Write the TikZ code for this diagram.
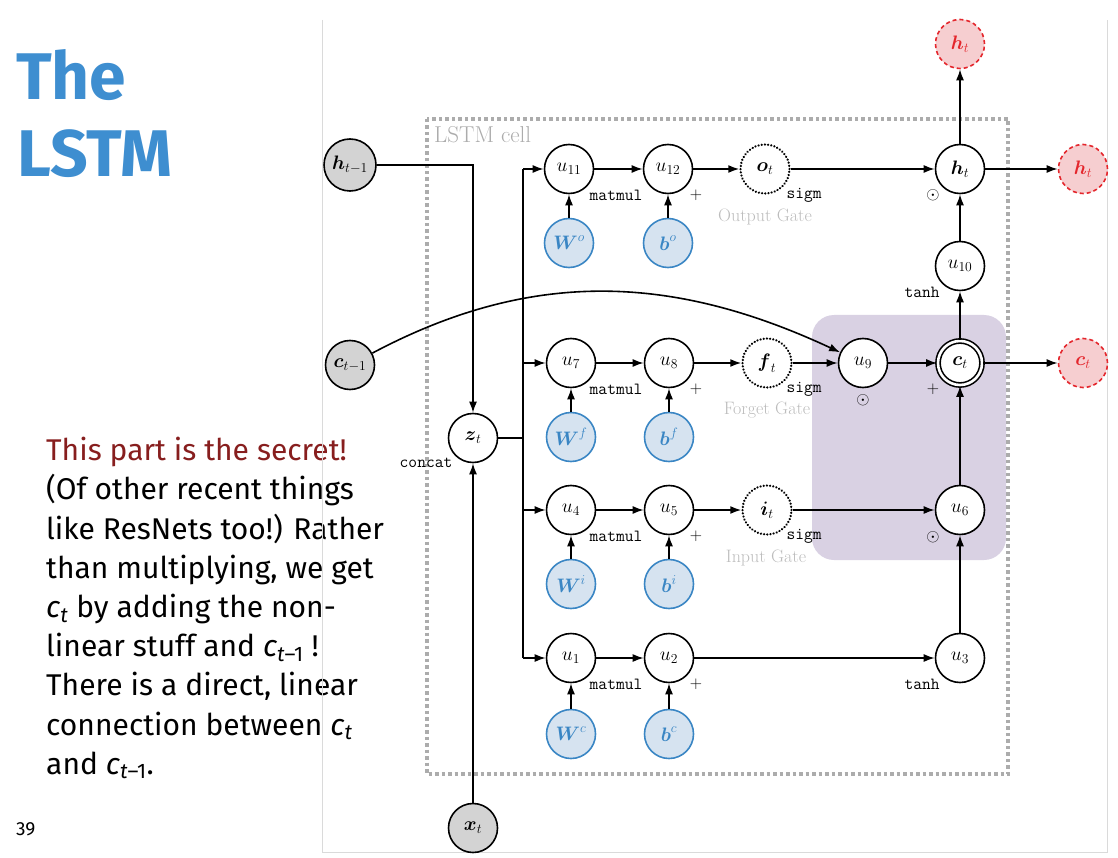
\RequirePackage{fix-cm}
\documentclass[tikz,border=0pt]{standalone}
\usepackage{amssymb}
\usepackage{amsmath}
\usepackage{fontspec}
\usepackage{tikz}
\usetikzlibrary{arrows.meta}

\newfontfamily\slidefont{Fira Sans}
\newcommand{\cvar}[1]{\textit{c}\textsubscript{#1}}

\definecolor{titleblue}{RGB}{62,142,208}
\definecolor{secretred}{RGB}{135,30,30}
\definecolor{parblue}{RGB}{58,134,196}
\definecolor{parfill}{RGB}{214,227,240}
\definecolor{outred}{RGB}{228,38,44}
\definecolor{outfill}{RGB}{246,206,208}
\definecolor{infill}{RGB}{211,211,211}
\definecolor{lightlbl}{RGB}{188,188,188}
\definecolor{cellgray}{RGB}{172,172,172}
\definecolor{keepbg}{RGB}{217,209,227}
\definecolor{framegray}{RGB}{218,218,218}

\tikzset{
  op/.style={circle, draw, line width=1.6pt, minimum size=49pt, inner sep=0pt, fill=white,
    font=\fontsize{19.5}{23}\selectfont},
  inp/.style={op, fill=infill},
  gate/.style={op, line cap=round, dash pattern=on 0.01pt off 3.2pt, line width=2.5pt},
  param/.style={op, draw=parblue, fill=parfill, text=parblue},
  outp/.style={op, draw=outred, fill=outfill, text=outred, dash pattern=on 4pt off 3pt},
  wire/.style={line width=1.6pt},
  arr/.style={wire, -{Latex[length=11pt,width=8pt]}},
  oplbl/.style={inner sep=0pt, font=\ttfamily\fontsize{17}{20}\selectfont},
  gatelbl/.style={inner sep=0pt, text=lightlbl, font=\rmfamily\fontsize{18}{21}\selectfont},
  slide/.style={inner sep=0pt, anchor=base west, font=\slidefont\fontsize{30}{36}\selectfont}
}

\begin{document}
\begin{tikzpicture}[x=1pt, y=1pt, font=\fontsize{17}{20}\selectfont]
\useasboundingbox (0,0) rectangle (1118,-858);

% slide text
\node[slide, text=titleblue, font=\slidefont\bfseries\fontsize{66}{70}\selectfont] (title1) at (16,-100) {The};
\node[slide, text=titleblue, font=\slidefont\bfseries\fontsize{66}{70}\selectfont] (title2) at (17,-177) {LSTM};
\node[slide, text=secretred] (line0) at (46,-460.7) {This part is the secret!};
\foreach \txt [count=\i] in {{(Of other recent things}, {like ResNets too!) Rather},
    {than multiplying, we get}, {\cvar{\textit{t}} by adding the non-}, {linear stuff and \cvar{\textit{t}–1} !},
    {There is a direct, linear}, {connection between \cvar{\textit{t}}}, {and \cvar{\textit{t}–1}.}}
  \node[slide] (line\i) at (46,{-460.7-39.2*\i}) {\txt};
\node[slide, font=\slidefont\fontsize{19}{22}\selectfont] (pageno) at (16,-835) {39};

% picture frame
\draw[framegray, line width=1pt] (322,-20) -- (322,-852) -- (1107,-852) -- (1107,-20);

% cell
\fill[keepbg, rounded corners=22pt] (812,-315) rectangle (1006,-560);
\draw[cellgray, line width=3.5pt, dash pattern=on 3.5pt off 3pt] (427,-119) rectangle (1008,-774);
\node[gatelbl, text=cellgray, font=\rmfamily\fontsize{23}{26}\selectfont, anchor=base west] (celltitle) at (434,-143) {LSTM cell};

% inputs
\node[inp, minimum size=52pt] (hprev) at (350,-165) {$\boldsymbol{h}_{t-1}$};
\node[inp] (cprev) at (350,-365) {$\boldsymbol{c}_{t-1}$};
\node[inp] (xt) at (473,-828) {$\boldsymbol{x}_t$};
\node[op] (zt) at (473,-438) {$\boldsymbol{z}_t$};
\node[oplbl] (concat) at (426,-463) {concat};

% output gate row
\node[op] (u11) at (569,-169) {$u_{11}$};
\node[op] (u12) at (668,-169) {$u_{12}$};
\node[gate] (ot) at (765,-169) {$\boldsymbol{o}_t$};
\node[op] (ht) at (960,-169) {$\boldsymbol{h}_t$};
\node[outp] (htop) at (960,-44) {$\boldsymbol{h}_t$};
\node[outp] (hout) at (1083,-169) {$\boldsymbol{h}_t$};
\node[op] (u10) at (960,-266) {$u_{10}$};
\node[param] (Wo) at (569,-243) {$\boldsymbol{W}^o$};
\node[param] (bo) at (668,-243) {$\boldsymbol{b}^o$};

% forget gate row
\node[op] (u7) at (571,-363) {$u_7$};
\node[op] (u8) at (669,-363) {$u_8$};
\node[gate] (ft) at (767,-363) {$\boldsymbol{f}_t$};
\node[op] (u9) at (863,-363) {$u_9$};
\node[op, minimum size=44pt, double=white, double distance=2.6pt] (ct) at (960,-363) {$\boldsymbol{c}_t$};
\node[outp] (cout) at (1083,-363) {$\boldsymbol{c}_t$};
\node[param] (Wf) at (571,-437) {$\boldsymbol{W}^f$};
\node[param] (bf) at (669,-437) {$\boldsymbol{b}^f$};

% input gate row
\node[op] (u4) at (571,-510) {$u_4$};
\node[op] (u5) at (669,-510) {$u_5$};
\node[gate] (it) at (767,-510) {$\boldsymbol{i}_t$};
\node[op] (u6) at (960,-510) {$u_6$};
\node[param] (Wi) at (571,-584) {$\boldsymbol{W}^i$};
\node[param] (bi) at (669,-584) {$\boldsymbol{b}^i$};

% candidate row
\node[op] (u1) at (571,-658) {$u_1$};
\node[op] (u2) at (669,-658) {$u_2$};
\node[op] (u3) at (960,-658) {$u_3$};
\node[param] (Wc) at (571,-734) {$\boldsymbol{W}^c$};
\node[param] (bc) at (669,-734) {$\boldsymbol{b}^c$};

% op labels
\foreach \r in {169,363,510,658} {
  \node[oplbl] (mm\r) at (616,-\r-26) {matmul};
  \node[inner sep=0pt] (add\r) at (696,-\r-26) {$+$};
}
\foreach \r in {169,363,510}
  \node[oplbl] (sig\r) at (804,-\r-26) {sigm};
\node[gatelbl] (oname) at (765,-217) {Output Gate};
\node[gatelbl] (fname) at (767,-410) {Forget Gate};
\node[gatelbl] (iname) at (766,-558) {Input Gate};
\node[inner sep=0pt] (dot1) at (933,-195) {$\odot$};
\node[inner sep=0pt] (dot2) at (863,-400) {$\odot$};
\node[inner sep=0pt] (dot3) at (933,-537) {$\odot$};
\node[inner sep=0pt] (plusc) at (933,-389) {$+$};
\node[oplbl] (tanh1) at (922,-292) {tanh};
\node[oplbl] (tanh2) at (922,-684) {tanh};

% connections
\draw[arr] (hprev.east) -| (zt.north);
\draw[arr] (xt) -- (zt);
\coordinate (bus) at (523,-438);
\draw[wire] (zt.east) -- (bus);
\draw[wire] (bus |- u11) -- (bus |- u1);
\foreach \n in {u11,u7,u4,u1}
  \draw[arr] (bus |- \n) -- (\n);
\draw[arr] (u11) -- (u12);
\draw[arr] (u12) -- (ot);
\draw[arr] (ot) -- (ht);
\draw[arr] (ht) -- (hout);
\draw[arr] (ht) -- (htop);
\draw[arr] (u10) -- (ht);
\draw[arr] (ct) -- (u10);
\draw[arr] (ct) -- (cout);
\draw[arr] (u7) -- (u8);
\draw[arr] (u8) -- (ft);
\draw[arr] (ft) -- (u9);
\draw[arr] (u9) -- (ct);
\draw[arr] (cprev) to[out=28, in=155] (u9);
\draw[arr] (u4) -- (u5);
\draw[arr] (u5) -- (it);
\draw[arr] (it) -- (u6);
\draw[arr] (u6) -- (ct);
\draw[arr] (u1) -- (u2);
\draw[arr] (u2) -- (u3);
\draw[arr] (u3) -- (u6);
\draw[arr] (Wo) -- (u11);
\draw[arr] (bo) -- (u12);
\draw[arr] (Wf) -- (u7);
\draw[arr] (bf) -- (u8);
\draw[arr] (Wi) -- (u4);
\draw[arr] (bi) -- (u5);
\draw[arr] (Wc) -- (u1);
\draw[arr] (bc) -- (u2);
\end{tikzpicture}
\end{document}
